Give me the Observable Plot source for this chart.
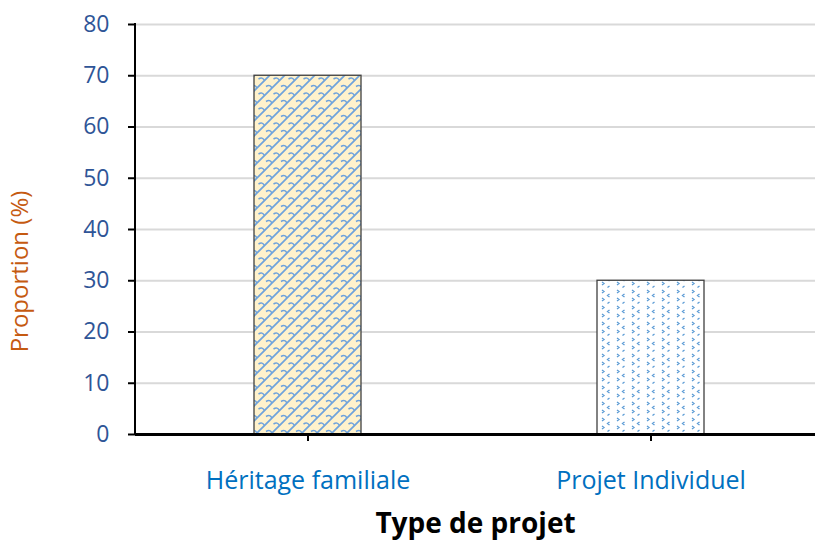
<!DOCTYPE html>
<html>
<head>
<meta charset="utf-8">
<script src="https://cdn.jsdelivr.net/npm/d3@7"></script>
<script src="https://cdn.jsdelivr.net/npm/@observablehq/plot@0.6"></script>
<style>
  html, body { margin: 0; padding: 0; background: #fff; }
  #chart svg { display: block; }
</style>
</head>
<body>
<div id="chart"></div>
<script>
const categories = ["Héritage familiale", "Projet Individuel"];
const proportions = [70, 30];
const yTicks = [0, 10, 20, 30, 40, 50, 60, 70, 80];
const xTitle = "Type de projet";
const yTitle = "Proportion (%)";

const data = categories.map((c, i) => ({category: c, value: proportions[i]}));
const fonts = "'Open Sans', 'Noto Sans', sans-serif";

const chart = Plot.plot({
  width: 815,
  height: 540,
  marginLeft: 135,
  marginRight: 0,
  marginTop: 24,
  marginBottom: 106,
  style: {fontFamily: fonts, background: "#fff"},
  x: {domain: categories, paddingInner: 0.689, paddingOuter: 0.333, align: 0.515, label: null},
  y: {domain: [0, 80], label: null},
  marks: [
    Plot.gridY(yTicks, {stroke: "#d9d9d9", strokeWidth: 2, strokeOpacity: 1}),
    Plot.barY(data.filter(d => d.category === categories[0]), {x: "category", y: "value", fill: "url(#pat1)", stroke: "#404040", strokeWidth: 1.3}),
    Plot.barY(data.filter(d => d.category === categories[1]), {x: "category", y: "value", fill: "url(#pat2)", stroke: "#404040", strokeWidth: 1.3}),
    Plot.ruleY([0], {stroke: "#000", strokeWidth: 3}),
    Plot.axisY(yTicks, {tickSize: 7, tickPadding: 19, fontSize: 23, fill: "#2f5597", stroke: "#000", strokeWidth: 2, label: null}),
    Plot.axisX({tickSize: 7, tickPadding: 30, fontSize: 25, fill: "#0070c0", stroke: "#000", strokeWidth: 2, label: null}),
    Plot.text([xTitle], {frameAnchor: "bottom", dy: 98, fontSize: 28, fontWeight: "bold", fill: "#000"}),
    Plot.text([yTitle], {frameAnchor: "left", textAnchor: "middle", dx: -115, dy: 42, rotate: -90, fontSize: 24, fill: "#c55a11"})
  ]
});

// Pattern fills and the vertical axis line
const svg = d3.select(chart);
const defs = svg.insert("defs", ":first-child");
const p1 = defs.append("pattern").attr("id", "pat1").attr("patternUnits", "userSpaceOnUse")
  .attr("width", 15).attr("height", 15);
p1.append("rect").attr("width", 15).attr("height", 15).attr("fill", "#fff2cc");
p1.append("path").attr("d", "M-2,17 L17,-2 M-2,2 L2,-2 M13,17 L17,13")
  .attr("stroke", "#6fa3dc").attr("stroke-width", 1.7).attr("fill", "none");
p1.append("path").attr("d", "M3.5,4 Q7.5,1.5 9.5,5.5 M11,11.5 Q15,9 17,13 M-4,11.5 Q0,9 2,13")
  .attr("stroke", "#6fa3dc").attr("stroke-width", 1.5).attr("fill", "none");

const p2 = defs.append("pattern").attr("id", "pat2").attr("patternUnits", "userSpaceOnUse")
  .attr("width", 15).attr("height", 16);
p2.append("rect").attr("width", 15).attr("height", 16).attr("fill", "#ffffff");
p2.append("path").attr("d", "M2,2 L4,3.5 L2,5 M9.5,6 L7.5,7.5 L9.5,9 M2,10 L4,11.5 L2,13 M9.5,14 L7.5,15.5")
  .attr("stroke", "#5b9bd5").attr("stroke-width", 1.3).attr("fill", "none");

const y = chart.scale("y");
svg.append("line")
  .attr("x1", 135).attr("x2", 135)
  .attr("y1", y.apply(80) - 1).attr("y2", y.apply(0))
  .attr("stroke", "#000").attr("stroke-width", 2);

document.getElementById("chart").appendChild(chart);
</script>
</body>
</html>
